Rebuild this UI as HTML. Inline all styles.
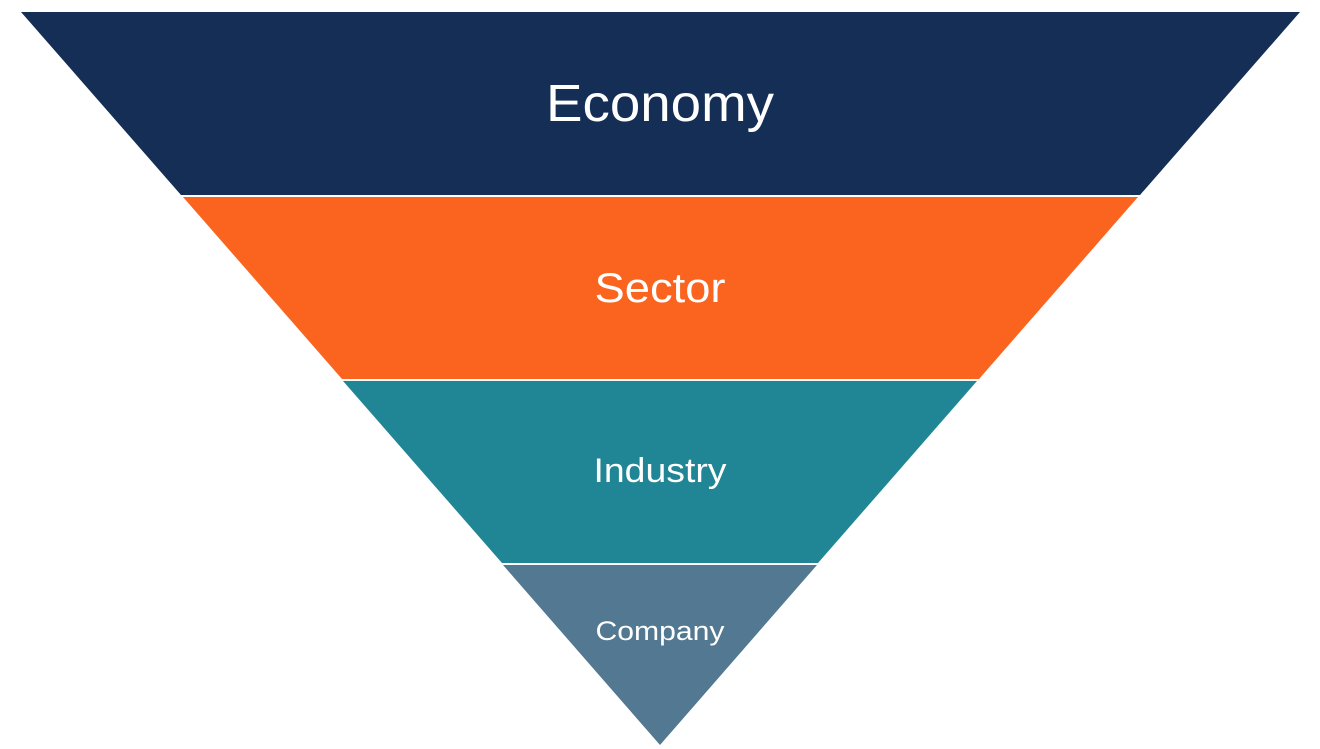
<!DOCTYPE html>
<html><head><meta charset="utf-8"><style>html,body{margin:0;padding:0;background:#fff}svg{display:block}</style></head>
<body>
<svg width="1320" height="749" viewBox="0 0 1320 749" xmlns="http://www.w3.org/2000/svg">
<polygon points="21,12 1300,12 1140,195 181,195" fill="#152e56"/>
<polygon points="183,197 1138,197 979,379 342,379" fill="#fb641f"/>
<polygon points="343,381 977,381 818,563 502,563" fill="#208595"/>
<polygon points="503,565 817,565 660,745" fill="#537891"/>
<g font-family="'Liberation Sans', sans-serif" fill="#fff" text-anchor="middle">
<text x="660" y="121" font-size="52" textLength="228" lengthAdjust="spacingAndGlyphs">Economy</text>
<text x="660" y="302" font-size="42" textLength="131" lengthAdjust="spacingAndGlyphs">Sector</text>
<text x="660" y="482" font-size="34" textLength="133" lengthAdjust="spacingAndGlyphs">Industry</text>
<text x="660" y="640" font-size="27" textLength="129" lengthAdjust="spacingAndGlyphs">Company</text>
</g>
</svg>
</body></html>
